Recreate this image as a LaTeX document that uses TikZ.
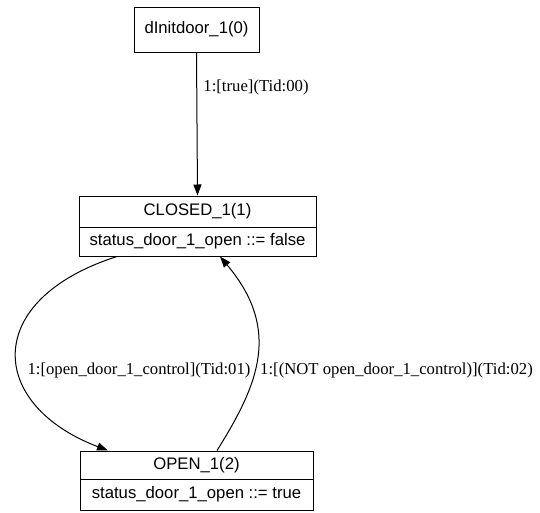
\documentclass[tikz,border=0pt]{standalone}
\usepackage{fontspec}
\setmainfont{Liberation Serif}
\newfontfamily\recfont{Liberation Sans}
\usetikzlibrary{arrows.meta}
\begin{document}
\begin{tikzpicture}[x=1pt,y=-1pt,
  state/.style={draw, line width=1pt, inner sep=0pt,
    font=\recfont\fontsize{16.7}{20}\selectfont},
  trans/.style={draw, line width=1pt, -{Triangle[length=11pt,width=8pt]}},
  tlabel/.style={inner sep=0pt, font=\fontsize{16.7}{20}\selectfont}]
\useasboundingbox (0,0) rectangle (540,512);

% initial state
\node[state, minimum width=125pt, minimum height=45pt] (init) at (196.5,29.5) {dInitdoor\_1(0)};

% CLOSED record: name field above, assignment field below
\node[state, minimum width=237pt, minimum height=31pt] (closed) at (197.5,211.5) {CLOSED\_1(1)};
\node[state, minimum width=237pt, minimum height=29pt] (closedv) at (197.5,241.5) {status\_door\_1\_open ::= false};

% OPEN record
\node[state, minimum width=233pt, minimum height=28pt] (opn) at (196.5,465) {OPEN\_1(2)};
\node[state, minimum width=233pt, minimum height=31pt] (opnv) at (196.5,494.5) {status\_door\_1\_open ::= true};

% transitions
\draw[trans] (init.south) -- (closed.north);
\node[tlabel] (l0) at (256,87) {1:[true](Tid:00)};

\draw[trans] ([xshift=-80.5pt]closedv.south)
  .. controls (-19,300) and (-12,405) .. ([xshift=-88.5pt]opn.north);
\node[tlabel] (l1) at (139,370) {1:[open\_door\_1\_control](Tid:01)};

\draw[trans] ([xshift=20.5pt]opn.north)
  .. controls (258,385) and (282,330) .. ([xshift=22.5pt]closedv.south);
\node[tlabel] (l2) at (396.5,370) {1:[(NOT open\_door\_1\_control)](Tid:02)};
\end{tikzpicture}
\end{document}
